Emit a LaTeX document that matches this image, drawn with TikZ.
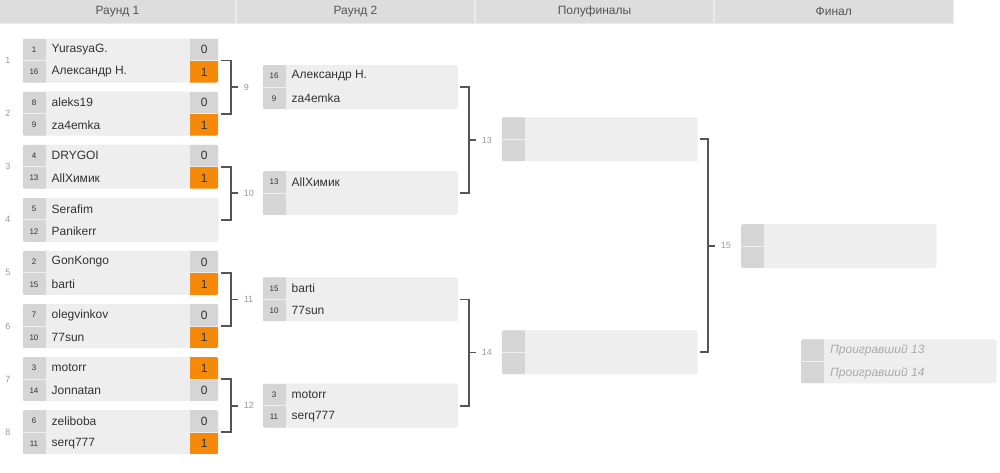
\documentclass[tikz,border=0pt]{standalone}
\usepackage{fontspec}
\setmainfont{Liberation Sans}
\usetikzlibrary{calc}
\definecolor{hdr}{HTML}{DDDDDD}
\definecolor{hdrline}{HTML}{EBEBEB}
\definecolor{boxc}{HTML}{EEEEEE}
\definecolor{seedc}{HTML}{D5D5D5}
\definecolor{orng}{HTML}{F5890A}
\definecolor{txt}{HTML}{333333}
\definecolor{lbl}{HTML}{999999}
\definecolor{brk}{HTML}{555555}
\definecolor{loser}{HTML}{AAAAAA}
\tikzset{
  matchbox/.style={fill=boxc, rounded corners=2.5pt, minimum height=44pt, inner sep=0pt, outer sep=0pt, draw=none},
  seedtxt/.style={text=txt, font=\fontsize{8}{9}\selectfont, inner sep=0pt},
  nametxt/.style={text=txt, font=\fontsize{12}{14}\selectfont, inner sep=0pt, anchor=west},
  losertxt/.style={text=loser, font=\fontsize{12}{14}\selectfont\itshape, inner sep=0pt, anchor=west},
  scoretxt/.style={text=txt, font=\fontsize{12}{14}\selectfont, inner sep=0pt},
  lbltxt/.style={text=lbl, font=\fontsize{9}{10}\selectfont, inner sep=0pt},
  hdrbox/.style={fill=hdr, minimum height=23pt, inner sep=0pt, outer sep=0pt, anchor=north west, text=brk, font=\fontsize{12}{14}\selectfont},
  brkline/.style={draw=brk, line width=1.8pt}
}
% #1 name, #2 x, #3 y top, #4 width, #5 seed1, #6 name1, #7 seed2, #8 name2, #9 scores (0 none, 1 = 0/1, 2 = 1/0)
\newcommand\bmatch[9]{%
  \node[matchbox, minimum width=#4pt, anchor=north west] (#1) at (#2,#3) {};
  \begin{scope}
    \clip[rounded corners=2.5pt] (#2,#3) rectangle ++(#4,44);
    \fill[seedc] (#2,#3) rectangle ++(23,21.5);
    \fill[seedc] (#2,#3+22.5) rectangle ++(23,21.5);
    \ifcase#9\or
      \fill[seedc] (#2+#4-28.5,#3) rectangle ++(28.5,21.5);
      \fill[orng] (#2+#4-28.5,#3+22.5) rectangle ++(28.5,21.5);
    \or
      \fill[orng] (#2+#4-28.5,#3) rectangle ++(28.5,21.5);
      \fill[seedc] (#2+#4-28.5,#3+22.5) rectangle ++(28.5,21.5);
    \fi
  \end{scope}
  \node[seedtxt] (#1s1) at (#2+11.5,#3+11) {#5};
  \node[seedtxt] (#1s2) at (#2+11.5,#3+33.5) {#7};
  \node[nametxt] (#1n1) at (#2+29,#3+11) {#6};
  \node[nametxt] (#1n2) at (#2+29,#3+33.5) {#8};
  \ifcase#9\or
    \node[scoretxt] (#1c1) at (#2+#4-14.25,#3+11) {0};
    \node[scoretxt] (#1c2) at (#2+#4-14.25,#3+33.5) {1};
  \or
    \node[scoretxt] (#1c1) at (#2+#4-14.25,#3+11) {1};
    \node[scoretxt] (#1c2) at (#2+#4-14.25,#3+33.5) {0};
  \fi
}
% #1 top match, #2 bottom match, #3 x of vertical, #4 label text, #5 label name
\newcommand\bbracket[5]{%
  \coordinate (#5a) at ($(#1.east)+(2,0)$);
  \coordinate (#5b) at ($(#2.east)+(2,0)$);
  \coordinate (#5v) at (#3,0);
  \draw[brkline] (#5a) -- (#5a -| #5v) -- (#5b -| #5v) -- (#5b);
  \draw[brkline] ($(#5a -| #5v)!0.5!(#5b -| #5v)$) -- ++(7,0) coordinate (#5t);
  \node[lbltxt, anchor=west] (#5) at ($(#5t)+(6,0)$) {#4};
}
\begin{document}
\begin{tikzpicture}[x=1pt,y=-1pt]
\useasboundingbox (0,0) rectangle (1000,472);
\fill[white] (0,0) rectangle (1000,472);
% header
\fill[hdrline] (0,0) rectangle (953.5,24.3);
\node[hdrbox, minimum width=235pt] (h1) at (0,0) {Раунд 1};
\node[hdrbox, minimum width=237pt] (h2) at (237,0) {Раунд 2};
\node[hdrbox, minimum width=237pt] (h3) at (476,0) {Полуфиналы};
\node[hdrbox, minimum width=237.5pt] (h4) at (715,0) {Финал};
% round 1
\bmatch{m1}{22.5}{38.5}{196}{1}{YurasyaG.}{16}{Александр Н.}{1}
\bmatch{m2}{22.5}{91.6}{196}{8}{aleks19}{9}{za4emka}{1}
\bmatch{m3}{22.5}{144.7}{196}{4}{DRYGOI}{13}{AllХимик}{1}
\bmatch{m4}{22.5}{197.8}{196}{5}{Serafim}{12}{Panikerr}{0}
\bmatch{m5}{22.5}{250.9}{196}{2}{GonKongo}{15}{barti}{1}
\bmatch{m6}{22.5}{304.0}{196}{7}{olegvinkov}{10}{77sun}{1}
\bmatch{m7}{22.5}{357.1}{196}{3}{motorr}{14}{Jonnatan}{2}
\bmatch{m8}{22.5}{410.2}{196}{6}{zeliboba}{11}{serq777}{1}
% round 1 match numbers
\foreach \i in {1,...,8}{
  \node[lbltxt] (l\i) at ($(m\i.west)+(-14.5,0)$) {\i};
}
% round 2
\bmatch{m9}{262.5}{65}{195.5}{16}{Александр Н.}{9}{za4emka}{0}
\bmatch{m10}{262.5}{171.2}{195.5}{13}{AllХимик}{}{}{0}
\bmatch{m11}{262.5}{277.4}{195.5}{15}{barti}{10}{77sun}{0}
\bmatch{m12}{262.5}{383.6}{195.5}{3}{motorr}{11}{serq777}{0}
% semifinals
\bmatch{m13}{501.7}{117.3}{196}{}{}{}{}{0}
\bmatch{m14}{501.7}{330.3}{196}{}{}{}{}{0}
% final
\bmatch{m15}{741}{224}{195.7}{}{}{}{}{0}
% third place
\node[matchbox, minimum width=195.7pt, anchor=north west] (m16) at (801,339.3) {};
\begin{scope}
  \clip[rounded corners=2.5pt] (801,339.3) rectangle ++(195.7,44);
  \fill[seedc] (801,339.3) rectangle ++(23,21.5);
  \fill[seedc] (801,361.8) rectangle ++(23,21.5);
\end{scope}
\node[losertxt] (m16n1) at (830,350.3) {Проигравший 13};
\node[losertxt] (m16n2) at (830,372.8) {Проигравший 14};
% brackets
\bbracket{m1}{m2}{230.7}{9}{b9}
\bbracket{m3}{m4}{230.7}{10}{b10}
\bbracket{m5}{m6}{230.7}{11}{b11}
\bbracket{m7}{m8}{230.7}{12}{b12}
\bbracket{m9}{m10}{468.7}{13}{b13}
\bbracket{m11}{m12}{468.7}{14}{b14}
\bbracket{m13}{m14}{707.7}{15}{b15}
\end{tikzpicture}
\end{document}
